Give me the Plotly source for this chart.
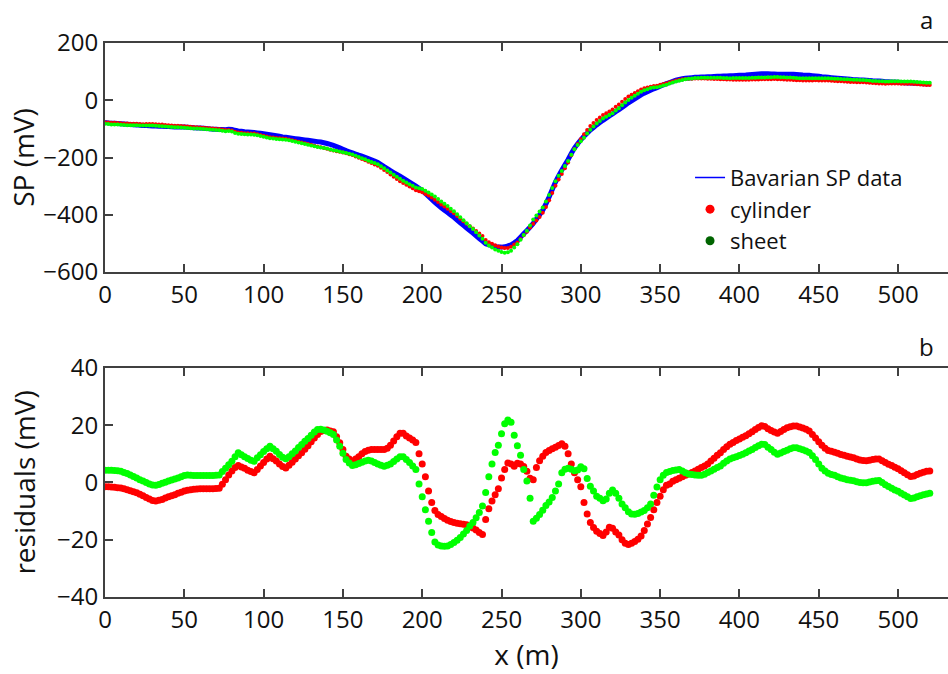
import numpy as np
import plotly.graph_objects as go

# ---------------- data ----------------
x_m = list(range(0, 521, 2))  # station positions (m), 2 m spacing

# observed Bavarian SP profile (mV)
sp_data = [
    -78, -79, -80, -80.5, -81, -82, -83, -84, -85, -85.5,
    -86, -87, -88, -88.5, -89, -89.5, -90, -90.5, -91, -91.5,
    -92, -92.5, -93, -93, -93, -93.5, -94, -95, -96, -96.5,
    -97, -98, -99, -100, -101, -101.5, -102, -102.5, -103, -101,
    -102, -105, -107, -108.5, -110, -111, -112, -113, -114, -115.5,
    -117, -118.5, -120, -122, -124, -126, -128, -129.5, -131, -132.5,
    -134, -135.5, -137, -138.5, -140, -141.5, -143, -144.5, -146, -148.5,
    -151, -154.5, -158, -162, -166, -171, -176, -180, -184, -188,
    -192, -195.5, -199, -203.5, -208, -212.5, -217, -224.5, -232, -239,
    -246, -252.5, -259, -265.5, -272, -279, -286, -293, -300, -307.5,
    -315, -325.5, -336, -346.5, -357, -366.5, -376, -384, -392, -400.5,
    -409, -418.5, -428, -437, -446, -455, -464, -473.5, -483, -492,
    -501, -505, -508, -511, -513, -513, -512, -509, -505, -498,
    -490, -478, -466, -455, -443, -430, -415, -400, -384, -362,
    -338, -312, -286, -264, -244, -225, -207, -186, -167, -152,
    -138, -126, -115, -104, -95, -86, -78, -70, -63, -55,
    -48, -40, -33, -25, -17, -9, -2, 5, 12, 19,
    25, 30, 35, 40, 44, 49, 54, 58, 62, 66,
    70, 73, 75, 77, 78, 79, 80, 80.5, 81, 81.5,
    82, 82.5, 83, 83.5, 84, 84.5, 85, 85.5, 86, 86.5,
    87, 87.5, 88, 89, 90, 91, 92, 93, 93, 92.5,
    92, 91.5, 91, 91, 91, 91, 91, 90.5, 90, 89,
    88, 87.5, 87, 86, 85, 83.5, 82, 81, 80, 79,
    78, 77, 76, 75, 74, 73, 72, 71.5, 71, 70.5,
    70, 69, 68, 67.5, 67, 66, 65, 64.5, 64, 63.5,
    63, 62, 61, 60.5, 60, 59.5, 59, 58.5, 58, 57.5,
    57,
]

# residuals (observed - model), mV
resid_cylinder = [
    -1.5, -1.5, -1.6, -1.7, -1.8, -1.9, -2.2, -2.5, -2.9, -3.2,
    -3.6, -4.1, -4.6, -5.2, -5.8, -6.3, -6.5, -6.2, -5.9, -5.4,
    -5.0, -4.6, -4.3, -3.8, -3.4, -3.0, -2.7, -2.5, -2.4, -2.3,
    -2.2, -2.2, -2.2, -2.2, -2.2, -2.1, -2.0, -0.6, 1.0, 2.6,
    4.0, 5.2, 5.9, 5.4, 5.0, 4.3, 3.8, 3.4, 4.5, 5.8,
    7.0, 8.2, 9.2, 8.3, 7.5, 6.5, 5.6, 5.1, 6.0, 7.1,
    8.2, 9.3, 10.4, 11.6, 12.8, 14.2, 15.5, 16.8, 17.8, 18.2,
    18.3, 18.0, 17.7, 16.0, 13.9, 11.5, 9.2, 8.2, 7.4, 8.2,
    9.0, 10.0, 10.8, 11.3, 11.5, 11.5, 11.5, 11.5, 11.5, 12.0,
    13.0, 14.5, 16.0, 17.2, 17.2, 16.2, 15.5, 14.8, 14.0, 10.0,
    6.5, 2.0, -3.0, -7.0, -9.8, -11.2, -11.9, -12.6, -13.2, -13.6,
    -14.0, -14.2, -14.4, -14.6, -14.8, -15.2, -15.9, -16.6, -17.5, -18.2,
    -12.9, -9.2, -6.5, -4.3, -2.2, 1.6, 4.5, 6.8, 6.5, 5.7,
    6.7, 6.5, 5.6, 3.9, 1.5, 1.0, 5.2, 7.6, 9.2, 10.5,
    11.2, 11.8, 12.3, 12.9, 13.5, 12.7, 10.0, 6.5, 3.4, 1.0,
    -1.5, -7.0, -11.0, -14.0, -15.7, -17.0, -17.8, -18.5, -17.3, -15.6,
    -16.0, -17.3, -18.3, -20.0, -21.2, -21.7, -21.2, -20.6, -19.8, -18.7,
    -16.8, -14.5, -12.2, -9.5, -7.0, -4.8, -2.5, -1.0, -0.5, 0.4,
    1.0, 1.5, 2.0, 2.5, 3.0, 3.5, 4.0, 4.6, 5.2, 5.8,
    6.5, 7.5, 8.5, 9.5, 10.4, 11.5, 12.5, 13.4, 14.0, 14.7,
    15.2, 15.8, 16.3, 17.0, 17.7, 18.5, 19.2, 19.8, 19.6, 18.8,
    18.2, 17.6, 17.2, 17.8, 18.5, 19.1, 19.5, 19.7, 19.7, 19.4,
    19.0, 18.6, 18.0, 16.8, 15.5, 14.2, 13.0, 12.0, 11.2, 10.9,
    10.6, 10.2, 9.8, 9.5, 9.2, 8.9, 8.6, 8.2, 7.9, 7.7,
    7.6, 7.8, 8.0, 8.2, 8.2, 7.6, 7.0, 6.4, 5.9, 5.3,
    4.8, 4.1, 3.4, 2.7, 2.1, 2.3, 2.8, 3.2, 3.6, 3.9,
    4.0,
]

resid_sheet = [
    4.3, 4.3, 4.3, 4.2, 4.1, 3.9, 3.5, 3.1, 2.6, 2.1,
    1.6, 1.0, 0.5, 0.0, -0.5, -0.9, -1.0, -0.7, -0.3, 0.1,
    0.5, 0.9, 1.2, 1.6, 2.0, 2.4, 2.6, 2.5, 2.4, 2.4,
    2.4, 2.4, 2.4, 2.4, 2.4, 2.5, 2.6, 3.8, 5.0, 6.2,
    7.4, 9.0, 10.4, 9.7, 9.0, 8.4, 7.8, 7.4, 8.6, 9.7,
    10.8, 11.8, 12.7, 11.8, 10.9, 9.8, 8.8, 8.3, 9.0, 10.0,
    11.0, 12.2, 13.3, 14.4, 15.4, 16.5, 17.6, 18.5, 18.6, 18.3,
    17.9, 17.4, 16.8, 14.8, 12.7, 10.2, 8.0, 6.8, 5.9, 6.2,
    6.6, 7.1, 7.5, 7.8, 7.5, 7.0, 6.5, 6.0, 5.7, 6.0,
    6.5, 7.3, 8.2, 9.0, 9.0, 8.0, 7.0, 5.8, 4.5, -0.5,
    -5.0, -9.5, -13.5, -17.5, -20.8, -21.8, -22.2, -22.3, -22.2, -21.7,
    -21.0, -20.2, -19.2, -18.0, -16.8, -15.2, -14.0, -12.3, -10.5, -8.2,
    -3.5, 2.0, 6.5, 10.5, 13.0, 17.0, 20.5, 21.8, 21.0, 16.5,
    12.8, 9.5, 4.5, 0.5, -5.5, -13.5, -12.5, -11.2, -9.7, -8.0,
    -6.8, -5.2, -3.0, -0.5, 3.4, 4.6, 5.0, 4.6, 4.1, 4.4,
    5.5, 4.8, 1.4, -1.3, -3.0, -4.8, -5.5, -6.4, -5.8, -3.8,
    -2.6, -3.8, -5.5, -7.5, -8.8, -10.2, -11.0, -11.1, -10.8, -10.3,
    -9.8, -8.8, -7.5, -4.5, -1.6, 1.0, 2.5, 3.5, 3.8, 4.2,
    4.4, 4.5, 4.0, 3.4, 3.0, 2.8, 2.6, 2.5, 2.5, 2.9,
    3.5, 4.0, 4.6, 5.2, 5.8, 6.7, 7.5, 8.2, 8.6, 9.0,
    9.4, 9.9, 10.4, 11.0, 11.5, 12.2, 12.8, 13.4, 13.3, 12.3,
    11.5, 10.6, 9.9, 10.3, 10.8, 11.3, 11.8, 12.1, 12.1, 11.8,
    11.4, 11.0, 10.5, 9.3, 8.0, 6.5, 5.0, 4.0, 3.2, 2.8,
    2.5, 2.0, 1.6, 1.3, 1.0, 0.8, 0.6, 0.3, 0.0, -0.1,
    -0.1, 0.2, 0.4, 0.6, 0.7, 0.0, -0.8, -1.4, -2.0, -2.6,
    -3.1, -3.8, -4.4, -5.0, -5.6, -5.4, -5.0, -4.6, -4.3, -4.0,
    -3.8,
]

assert len(sp_data) == len(x_m) == len(resid_cylinder) == len(resid_sheet)

# modelled anomalies follow from residual = observed - model
sp_cylinder = (np.array(sp_data) - np.array(resid_cylinder)).tolist()
sp_sheet = (np.array(sp_data) - np.array(resid_sheet)).tolist()

x_ticks = [0, 50, 100, 150, 200, 250, 300, 350, 400, 450, 500]
top_ticks = [-600, -400, -200, 0, 200]
bot_ticks = [-40, -20, 0, 20, 40]

BLUE, RED, GREEN, DKGREEN = "#0000FF", "#FF0000", "#00FF00", "#006400"
AX = "#404040"
FONT = "Open Sans"
TXT = "#111111"

fig = go.Figure()

# ---- panel a ----
fig.add_trace(go.Scatter(x=x_m, y=sp_data, mode="lines",
                         line=dict(color=BLUE, width=5, simplify=False), showlegend=False,
                         xaxis="x", yaxis="y"))
fig.add_trace(go.Scatter(x=x_m, y=sp_cylinder, mode="markers",
                         marker=dict(color=RED, size=4), showlegend=False,
                         xaxis="x", yaxis="y"))
fig.add_trace(go.Scatter(x=x_m, y=sp_sheet, mode="markers",
                         marker=dict(color=GREEN, size=4), showlegend=False,
                         xaxis="x", yaxis="y"))
# legend entries
fig.add_trace(go.Scatter(x=[None], y=[None], mode="lines", name="Bavarian SP data",
                         line=dict(color=BLUE, width=1.5), xaxis="x", yaxis="y"))
fig.add_trace(go.Scatter(x=[None], y=[None], mode="markers", name="cylinder",
                         marker=dict(color=RED, size=9), xaxis="x", yaxis="y"))
fig.add_trace(go.Scatter(x=[None], y=[None], mode="markers", name="sheet",
                         marker=dict(color=DKGREEN, size=9), xaxis="x", yaxis="y"))

# ---- panel b ----
fig.add_trace(go.Scatter(x=x_m, y=resid_cylinder, mode="markers",
                         marker=dict(color=RED, size=7), showlegend=False,
                         xaxis="x2", yaxis="y2"))
fig.add_trace(go.Scatter(x=x_m, y=resid_sheet, mode="markers",
                         marker=dict(color=GREEN, size=7), showlegend=False,
                         xaxis="x2", yaxis="y2"))

xcommon = dict(range=[0, 531.5], tickvals=x_ticks, ticks="inside", ticklen=8,
               tickwidth=1.5, tickcolor=AX, showline=True, linecolor=AX, linewidth=2,
               mirror="ticks", showgrid=False, zeroline=False,
               tickfont=dict(family=FONT, size=24, color=TXT))
ycommon = dict(ticks="inside", ticklen=8, tickwidth=1.5, tickcolor=AX,
               showline=True, linecolor=AX, linewidth=2, mirror=False,
               showgrid=False, zeroline=False,
               tickfont=dict(family=FONT, size=24, color=TXT))

fig.update_layout(
    width=948, height=674,
    margin=dict(l=105, r=0, t=43, b=77),
    paper_bgcolor="white", plot_bgcolor="white",
    font=dict(family=FONT, color=TXT),
    xaxis=dict(domain=[0, 1], anchor="y", **xcommon),
    yaxis=dict(domain=[0.5866, 1], anchor="x", range=[-600, 200], tickvals=top_ticks,
               title=dict(text="SP (mV)", font=dict(family=FONT, size=28, color=TXT),
                          standoff=0),
               **ycommon),
    xaxis2=dict(domain=[0, 1], anchor="y2",
                title=dict(text="x (m)", font=dict(family=FONT, size=28, color=TXT),
                           standoff=8),
                **xcommon),
    yaxis2=dict(domain=[0, 0.4134], anchor="x2", range=[-40, 40], tickvals=bot_ticks,
                title=dict(text="residuals (mV)", font=dict(family=FONT, size=28, color=TXT),
                           standoff=13),
                **ycommon),
    legend=dict(x=0.694, y=0.7946, xanchor="left", yanchor="top",
                bgcolor="rgba(0,0,0,0)", font=dict(family=FONT, size=22, color=TXT),
                itemwidth=30, tracegroupgap=0),
    annotations=[
        dict(text="a", x=0.975, y=1.0433, xref="paper", yref="paper", showarrow=False,
             xanchor="center", yanchor="middle",
             font=dict(family=FONT, size=24, color=TXT)),
        dict(text="b", x=0.975, y=0.453, xref="paper", yref="paper", showarrow=False,
             xanchor="center", yanchor="middle",
             font=dict(family=FONT, size=24, color=TXT)),
    ],
)

fig.write_html("out.html")
